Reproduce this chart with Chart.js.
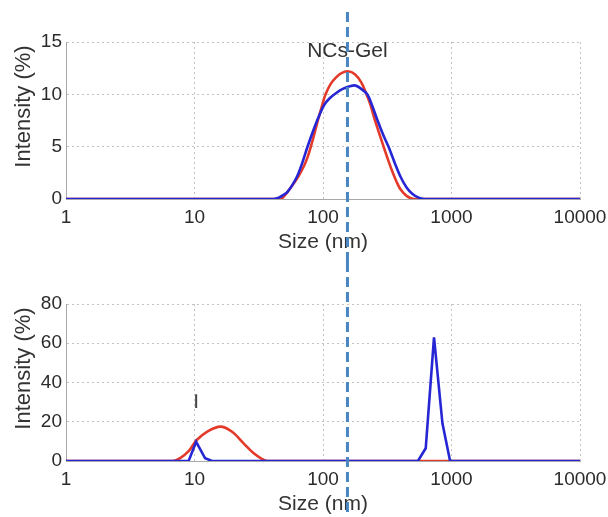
<!DOCTYPE html>
<html>
<head>
<meta charset="utf-8">
<script src="https://cdn.jsdelivr.net/npm/chart.js@4.4.0/dist/chart.umd.min.js"></script>
<style>
  html, body { margin: 0; padding: 0; background: #fff; }
  .panel { position: relative; width: 608px; }
</style>
</head>
<body>
<div class="panel" style="height:262px"><canvas id="gelChart"></canvas></div>
<div class="panel" style="height:255px"><canvas id="ncsChart"></canvas></div>
<script>
// axis ticks
const sizeTicks = [1, 10, 100, 1000, 10000];
const gelTicks = [0, 5, 10, 15];
const ncsTicks = [0, 20, 40, 60, 80];

// upper panel (NCs-Gel)
const gelRedSizes = [1, 46.7, 50.1, 52.5, 56.2, 59.3, 64.6, 70.8, 75.9, 80, 85.1, 91.2, 97.7, 104.7, 114.8, 125.9, 138, 156,
    178, 199.5, 218, 234, 251, 275, 298, 324, 347, 372, 402, 447, 511, 10000];
const gelRedValues = [0, 0, 0.3, 0.6, 1.1, 1.5, 2.2, 3.1, 4.0, 4.9, 6.1, 7.5, 8.8, 10.0, 11.0, 11.6, 12.0, 12.2,
    11.9, 11.1, 10.0, 9.0, 7.7, 6.2, 4.9, 3.6, 2.6, 1.7, 0.9, 0.3, 0, 0];
const gelBlueSizes = [1, 41.4, 45.7, 50.1, 52.7, 57.5, 63.1, 69.2, 75.3, 83.2, 92.9, 102.3, 112.2, 125.9, 141.3, 176,
    199.5, 221, 240, 264, 295, 326, 363, 402, 447, 495, 550, 611, 10000];
const gelBlueValues = [0, 0, 0.15, 0.45, 0.65, 1.3, 2.2, 3.5, 4.9, 6.4, 7.9, 9.0, 9.6, 10.1, 10.5, 10.86,
    10.5, 10.0, 9.0, 7.6, 6.1, 4.9, 3.4, 2.1, 1.1, 0.5, 0.15, 0, 0];

// lower panel
const ncsRedSizes = [1, 6.8, 7.74, 9.0, 10.4, 12.5, 15.9, 19.6, 24.1, 28.9, 33.6, 36.7, 10000];
const ncsRedValues = [0, 0, 1.5, 5.0, 10.7, 14.9, 17.5, 14.9, 9.0, 3.9, 1.0, 0, 0];
const ncsBlueSizes = [1, 9.0, 10.3, 12.1, 13.7, 548, 630, 731, 850, 975, 10000];
const ncsBlueValues = [0, 0, 9.8, 1.4, 0, 0, 6.5, 63, 19.2, 0, 0];

const markerSize = 155;      // dashed reference line
const gelLabel = 'NCs-Gel';
const gelLabelLevel = 14.1;
const ncsBarSize = 10.3;     // small error mark in lower panel
const ncsBarRange = [27, 34];

const RED = 'rgb(228,58,42)';
const BLUE = 'rgb(38,38,212)';
const FONT = '"Liberation Sans", Arial, Helvetica, sans-serif';

function pts(xs, ys) {
    return xs.map((x, i) => ({ x: x, y: ys[i] }));
}

const overlay = {
    id: 'overlay',
    afterDraw(chart, args, opts) {
        const { ctx, chartArea, scales } = chart;
        const x = scales.x, y = scales.y;

        // y axis title
        ctx.save();
        ctx.fillStyle = '#333';
        ctx.font = '22px ' + FONT;
        ctx.textAlign = 'center';
        ctx.textBaseline = 'middle';
        ctx.translate(24, (chartArea.top + chartArea.bottom) / 2 - 14);
        ctx.rotate(-Math.PI / 2);
        ctx.fillText('Intensity (%)', 0, 0);
        ctx.restore();

        if (opts.label) {
            ctx.save();
            ctx.fillStyle = '#333';
            ctx.font = '21px ' + FONT;
            ctx.textAlign = 'center';
            ctx.textBaseline = 'middle';
            ctx.fillText(opts.label, x.getPixelForValue(markerSize), y.getPixelForValue(gelLabelLevel));
            ctx.restore();
        }
        if (opts.bar) {
            const bx = x.getPixelForValue(ncsBarSize);
            ctx.save();
            ctx.strokeStyle = '#444';
            ctx.lineWidth = 2;
            ctx.beginPath();
            ctx.moveTo(bx, y.getPixelForValue(ncsBarRange[0]));
            ctx.lineTo(bx, y.getPixelForValue(ncsBarRange[1]));
            ctx.stroke();
            ctx.restore();
        }

        // dashed marker across the panel
        const px = x.getPixelForValue(markerSize);
        ctx.save();
        ctx.strokeStyle = '#4a86c1';
        ctx.lineWidth = 3;
        ctx.setLineDash([10, 5]);
        ctx.beginPath();
        ctx.moveTo(px, opts.lineTop);
        ctx.lineTo(px, chart.height);
        ctx.stroke();
        ctx.restore();
    }
};

function makeChart(id, blue, red, yTicks, tension, extra, pad) {
    const ctx = document.getElementById(id).getContext('2d');
    return new Chart(ctx, {
        type: 'line',
        data: {
            datasets: [{
                data: blue,
                borderColor: BLUE,
                borderWidth: 2.6,
                pointRadius: 0,
                tension: tension[0]
            }, {
                data: red,
                borderColor: RED,
                borderWidth: 2.6,
                pointRadius: 0,
                tension: tension[1]
            }]
        },
        options: {
            responsive: true,
            maintainAspectRatio: false,
            animation: false,
            layout: { padding: pad, autoPadding: false },
            plugins: {
                legend: { display: false },
                tooltip: { enabled: false },
                overlay: extra
            },
            scales: {
                x: {
                    type: 'logarithmic',
                    min: 1,
                    max: 10000,
                    afterBuildTicks: s => { s.ticks = sizeTicks.map(v => ({ value: v })); },
                    afterFit: s => { s.height = 56; s.paddingLeft = 0; s.paddingRight = 0; },
                    grid: { color: '#c2c2c2', lineWidth: 1, drawTicks: false },
                    border: { color: '#a8a8a8', width: 1, dash: [2, 3] },
                    ticks: {
                        padding: 7,
                        color: '#2b2b2b',
                        font: { size: 19, family: FONT },
                        maxRotation: 0,
                        autoSkip: false,
                        callback: v => String(v)
                    },
                    title: {
                        display: true,
                        text: 'Size (nm)',
                        color: '#333',
                        font: { size: 21, family: FONT },
                        padding: { top: 0, bottom: 0 }
                    }
                },
                y: {
                    min: yTicks[0],
                    max: yTicks[yTicks.length - 1],
                    afterBuildTicks: s => { s.ticks = yTicks.map(v => ({ value: v })); },
                    afterFit: s => { s.width = 66; s.paddingTop = 0; s.paddingBottom = 0; },
                    grid: { color: '#c2c2c2', lineWidth: 1, drawTicks: false },
                    border: { color: '#a8a8a8', width: 1, dash: [2, 3] },
                    ticks: {
                        padding: 4,
                        color: '#2b2b2b',
                        font: { size: 19, family: FONT }
                    }
                }
            }
        },
        plugins: [overlay]
    });
}

makeChart('gelChart', pts(gelBlueSizes, gelBlueValues), pts(gelRedSizes, gelRedValues), gelTicks, [0.3, 0.3],
    { label: gelLabel, lineTop: 12 }, { top: 42, right: 28, bottom: 7, left: 0 });
makeChart('ncsChart', pts(ncsBlueSizes, ncsBlueValues), pts(ncsRedSizes, ncsRedValues), ncsTicks, [0, 0.35],
    { bar: true, lineTop: 0 }, { top: 42, right: 28, bottom: 0, left: 0 });
</script>
</body>
</html>
